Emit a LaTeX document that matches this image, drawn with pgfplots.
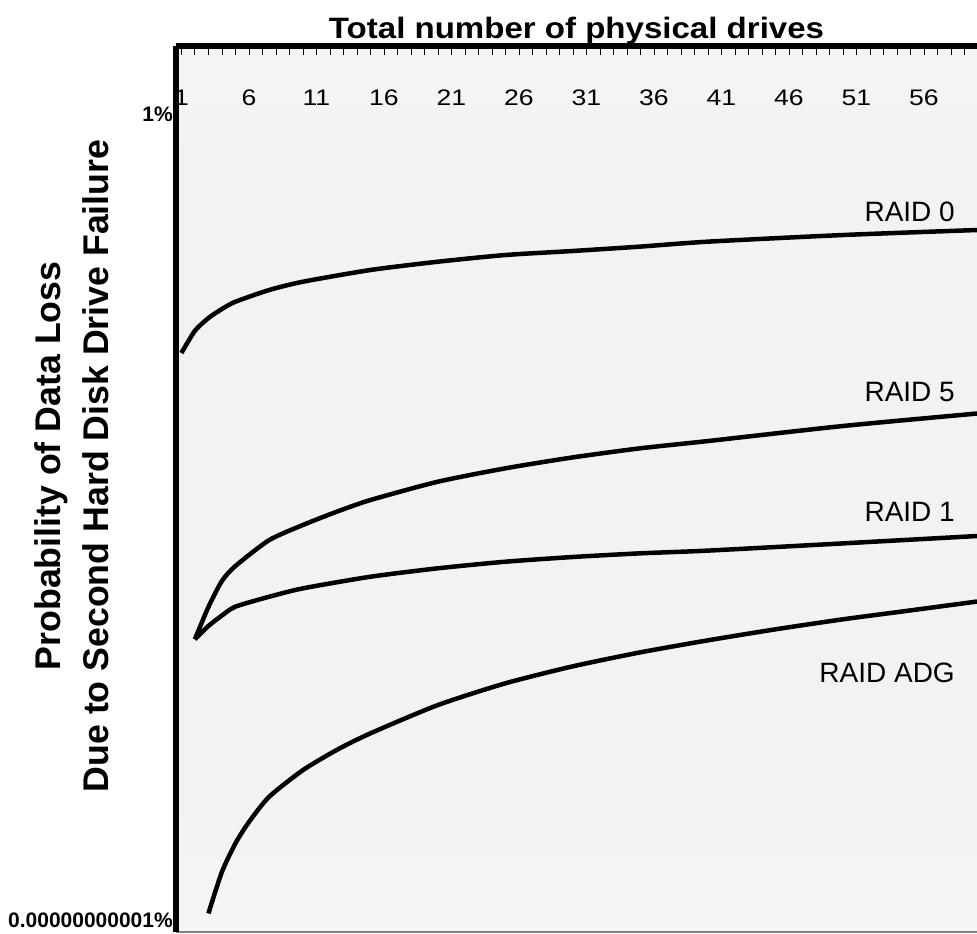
\documentclass[border=0pt]{standalone}
\usepackage{fontspec}
\setmainfont{Liberation Sans}
\newfontfamily\tickfont[FakeStretch=1.18]{Liberation Sans}
\newfontfamily\titlefont[FakeStretch=1.12]{Liberation Sans}
\usepackage{pgfplots}
\pgfplotsset{compat=1.18}
\definecolor{bandgray}{HTML}{F2F2F2}
\definecolor{midgray}{HTML}{F8F8F8}
\definecolor{topgray}{HTML}{FDFDFD}
\pgfdeclareverticalshading{bgshade}{100bp}{color(0bp)=(white); color(18bp)=(midgray); color(33bp)=(bandgray); color(68bp)=(bandgray); color(84bp)=(midgray); color(100bp)=(topgray)}
\begin{document}
\begin{tikzpicture}
\begin{axis}[
  scale only axis, width=801pt, height=886pt,
  xmin=0.6, xmax=59.93,
  ymode=log, ymin=6.86e-12, ymax=8.47,
  clip=false,
  axis line style={draw=none},
  axis background/.style={shading=bgshade},
  /pgf/number format/assume math mode=true,
  xtick={1,6,...,56}, minor xtick={1,...,60},
  xtick pos=upper, xticklabel pos=upper, tick align=inside,
  major tick length=9pt, minor tick length=9pt,
  xtick style={black, line width=0.8pt},
  minor tick style={black, line width=0.8pt},
  xticklabel style={font=\tickfont\fontsize{22.5}{26}\selectfont, anchor=center, yshift=-52pt},
  ytick={1e-11,1}, yticklabels={0.00000000001\%, 1\%},
  ytick style={draw=none},
  yticklabel style={font=\bfseries\fontsize{21}{25}\selectfont, anchor=east, inner sep=0pt, xshift=-3pt},
  title={Total number of physical drives},
  title style={font=\titlefont\bfseries\fontsize{29.5}{33}\selectfont, at={(rel axis cs:0.5,1)}, anchor=base, yshift=1pt},
  ylabel={Probability of Data Loss\\Due to Second Hard Disk Drive Failure},
  every axis y label/.style={at={(rel axis cs:-0.1298,0.526)}, rotate=90, anchor=center, align=center, font=\bfseries\fontsize{35.7}{48}\selectfont},
]
\draw[gray, line width=1.2pt] (rel axis cs:0,0) -- (rel axis cs:1,0);
\draw[black, line width=6pt] (rel axis cs:0,0) -- (rel axis cs:0,1);
\draw[black, line width=6pt] (rel axis cs:0,1) -- (rel axis cs:1,1);

% RAID 0
\addplot[black, line width=4.5pt, smooth, tension=0.4] coordinates {
 (1,5.47e-4) (2,1.10e-3) (3,1.64e-3) (4,2.18e-3) (5,2.74e-3) (7.5,3.96e-3) (10,5.14e-3)
 (15,7.43e-3) (20,9.64e-3) (25,1.19e-2) (30,1.35e-2) (35,1.55e-2) (40,1.81e-2) (50,2.23e-2) (59.93,2.61e-2)};
% RAID 5
\addplot[black, line width=4.5pt, smooth, tension=0.4] coordinates {
 (2,6.77e-8) (3,1.87e-7) (4,4.23e-7) (5,6.78e-7) (7.5,1.53e-6) (10,2.46e-6) (12.5,3.73e-6)
 (15,5.39e-6) (20,9.59e-6) (25,1.46e-5) (30,2.06e-5) (35,2.74e-5) (40,3.44e-5) (50,5.52e-5) (59.93,8.17e-5)};
% RAID 1
\addplot[black, line width=4.5pt, smooth, tension=0.4] coordinates {
 (2,6.77e-8) (3,1.03e-7) (4,1.43e-7) (5,1.89e-7) (7.5,2.58e-7) (10,3.36e-7) (15,4.84e-7)
 (20,6.31e-7) (25,7.76e-7) (30,9.0e-7) (35,1.01e-6) (40,1.10e-6) (50,1.38e-6) (59.93,1.74e-6)};
% RAID ADG
\addplot[black, line width=4.5pt, smooth, tension=0.4] coordinates {
 (3,1.23e-11) (4,4.52e-11) (5,1.11e-10) (6,2.17e-10) (7.5,4.81e-10) (10,1.11e-9) (12.5,2.09e-9)
 (15,3.53e-9) (20,8.59e-9) (25,1.70e-8) (30,2.90e-8) (35,4.50e-8) (40,6.56e-8) (45,9.27e-8)
 (50,1.27e-7) (55,1.68e-7) (59.93,2.22e-7)};

\node[anchor=east, inner sep=0pt, font=\fontsize{28}{32}\selectfont] at (axis cs:58.3,4.6e-2) {RAID 0};
\node[anchor=east, inner sep=0pt, font=\fontsize{28}{32}\selectfont] at (axis cs:58.3,1.62e-4) {RAID 5};
\node[anchor=east, inner sep=0pt, font=\fontsize{28}{32}\selectfont] at (axis cs:58.3,3.73e-6) {RAID 1};
\node[anchor=east, inner sep=0pt, font=\fontsize{28}{32}\selectfont] at (axis cs:58.3,2.39e-8) {RAID ADG};
\end{axis}
\pgfresetboundingbox
\useasboundingbox ([xshift=-176pt,yshift=-2pt]current axis.south west) rectangle ([yshift=46pt]current axis.north east);
\end{tikzpicture}
\end{document}
